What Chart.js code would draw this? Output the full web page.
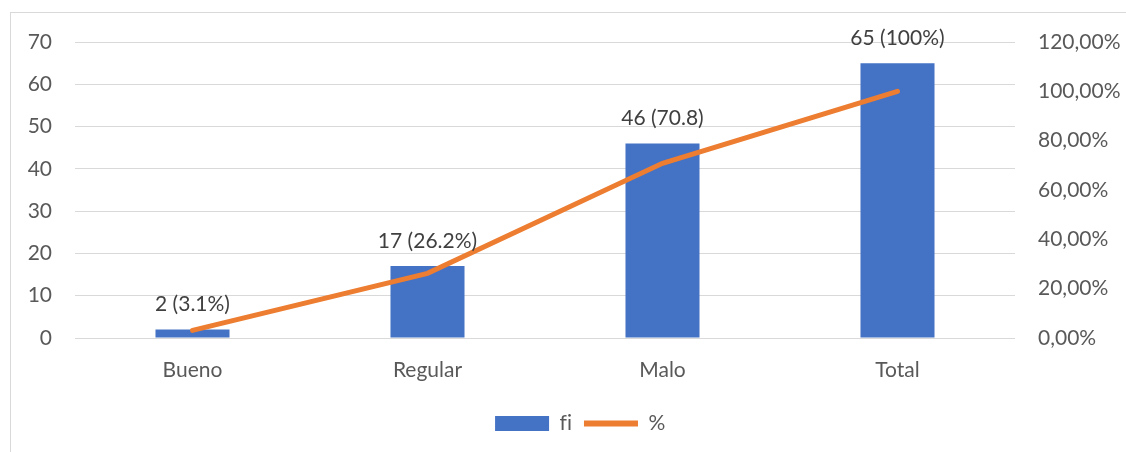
<!DOCTYPE html>
<html>
<head>
<meta charset="utf-8">
<script src="https://cdn.jsdelivr.net/npm/chart.js@4"></script>
<style>
  html, body { margin: 0; padding: 0; background: #fff; overflow: hidden; }
  #frame { position: absolute; left: 10px; top: 12px; width: 1140px; height: 470px; border: 1px solid #d9d9d9; box-sizing: border-box; }
  #wrap { position: absolute; left: 0; top: 0; width: 1126px; height: 452px; }
</style>
</head>
<body>
<div id="frame"></div>
<div id="wrap"><canvas id="c"></canvas></div>
<script>
const categories = ["Bueno", "Regular", "Malo", "Total"];
const fiValues = [2, 17, 46, 65];
const pctValues = [3.1, 26.2, 70.8, 100];
const barLabels = ["2 (3.1%)", "17 (26.2%)", "46 (70.8)", "65 (100%)"];
const seriesNames = ["fi", "%"];

const FONT = "Lato, 'Open Sans', sans-serif";

const noLigaturePlugin = {
  id: 'noLig',
  beforeDraw(chart) {
    try { chart.ctx.textRendering = 'optimizeSpeed'; } catch (e) {}
  }
};

// shift the bottom legend so it is centred like the reference (layout offset only)
const legendShiftPlugin = {
  id: 'legendShift',
  afterLayout(chart) {
    if (chart.legend) { chart.legend.left += 34; }
  }
};

const barLabelPlugin = {
  id: 'barLabels',
  afterDatasetsDraw(chart) {
    const meta = chart.getDatasetMeta(0);
    const ctx = chart.ctx;
    ctx.save();
    ctx.font = "21px " + FONT;
    ctx.fillStyle = "#404040";
    ctx.textAlign = "center";
    ctx.textBaseline = "middle";
    meta.data.forEach((el, i) => {
      ctx.fillText(barLabels[i], el.x, el.y - 25);
    });
    ctx.restore();
  }
};

new Chart(document.getElementById('c'), {
  type: 'bar',
  data: {
    labels: categories,
    datasets: [
      {
        type: 'bar',
        label: seriesNames[0],
        data: fiValues,
        backgroundColor: '#4472C4',
        borderWidth: 0,
        yAxisID: 'y',
        order: 1,
        barPercentage: 0.315,
        categoryPercentage: 1
      },
      {
        type: 'line',
        label: seriesNames[1],
        data: pctValues,
        borderColor: '#ED7D31',
        backgroundColor: '#ED7D31',
        borderWidth: 5,
        borderCapStyle: 'round',
        pointRadius: 0,
        tension: 0,
        yAxisID: 'y2',
        order: 0
      }
    ]
  },
  options: {
    responsive: true,
    maintainAspectRatio: false,
    animation: false,
    layout: { padding: { top: 42, left: 0, right: 0, bottom: 8 } },
    plugins: {
      tooltip: { enabled: false },
      legend: {
        position: 'bottom',
        labels: {
          font: { family: FONT, size: 21 },
          color: '#595959',
          usePointStyle: true,
          pointStyleWidth: 54,
          boxHeight: 15,
          padding: 12,
          sort: (a, b) => a.datasetIndex - b.datasetIndex,
          generateLabels(chart) {
            const items = Chart.defaults.plugins.legend.labels.generateLabels(chart);
            items.forEach(it => {
              it.pointStyle = it.datasetIndex === 0 ? 'rect' : 'line';
              if (it.datasetIndex === 1) { it.lineWidth = 6; it.strokeStyle = '#ED7D31'; }
              else { it.lineWidth = 0; }
            });
            return items;
          }
        }
      }
    },
    scales: {
      x: {
        grid: { display: false, drawTicks: false },
        border: { display: false },
        ticks: { font: { family: FONT, size: 21 }, color: '#595959', padding: 20 },
        afterFit(scale) { scale.height = 63; }
      },
      y: {
        position: 'left',
        min: 0, max: 70,
        ticks: { stepSize: 10, font: { family: FONT, size: 21 }, color: '#595959', padding: 23 },
        grid: { color: '#d9d9d9', lineWidth: 1, drawTicks: false },
        border: { display: false },
        afterFit(scale) { scale.width = 75; }
      },
      y2: {
        position: 'right',
        min: 0, max: 120,
        ticks: {
          stepSize: 20,
          font: { family: FONT, size: 21 },
          color: '#595959',
          padding: 23,
          callback: v => v.toFixed(2).replace('.', ',') + '%'
        },
        grid: { display: false, drawTicks: false },
        border: { display: false },
        afterFit(scale) { scale.width = 111; }
      }
    }
  },
  plugins: [noLigaturePlugin, legendShiftPlugin, barLabelPlugin]
});
</script>
</body>
</html>
